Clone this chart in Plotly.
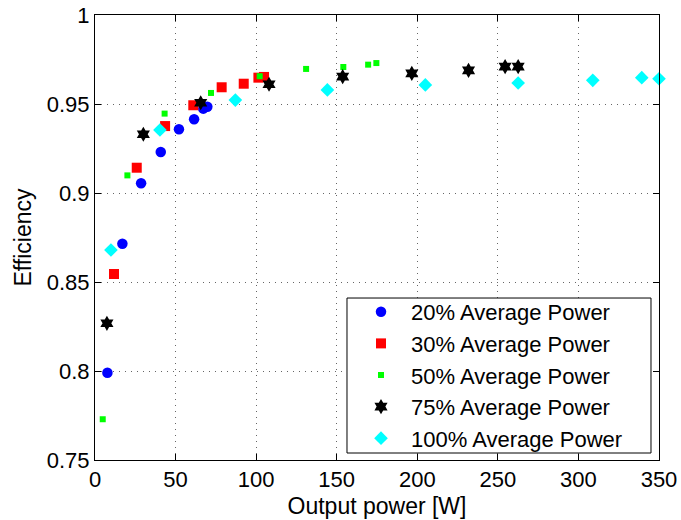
import plotly.graph_objects as go

# ---- data ----
x20 = [7.7, 17.0, 28.6, 40.8, 52.1, 61.5, 67.2, 69.7]
y20 = [0.799, 0.8715, 0.9055, 0.923, 0.9358, 0.9414, 0.9474, 0.9485]

x30 = [11.8, 25.9, 43.5, 61.0, 78.6, 92.3, 101.4, 104.9]
y30 = [0.8545, 0.9142, 0.9376, 0.9493, 0.9594, 0.9614, 0.9648, 0.9652]

x50 = [4.8, 20.1, 43.2, 72.0, 102.2, 131.0, 154.1, 169.5, 174.6]
y50 = [0.7729, 0.9099, 0.9446, 0.9562, 0.9656, 0.9697, 0.9708, 0.9721, 0.973]

x75 = [7.4, 30.0, 65.6, 108.0, 153.7, 196.6, 231.8, 254.5, 262.6]
y75 = [0.8268, 0.933, 0.9507, 0.9611, 0.9654, 0.9672, 0.9689, 0.971, 0.971]

x100 = [9.9, 40.3, 87.1, 144.2, 205.0, 262.6, 308.9, 339.3, 350.0]
y100 = [0.868, 0.9354, 0.9522, 0.9579, 0.9607, 0.9618, 0.9633, 0.9648, 0.9642]

names = ["20% Average Power", "30% Average Power", "50% Average Power",
         "75% Average Power", "100% Average Power"]

x_ticks = [0, 50, 100, 150, 200, 250, 300, 350]
y_ticks = [0.75, 0.8, 0.85, 0.9, 0.95, 1.0]
y_tick_text = ["0.75", "0.8", "0.85", "0.9", "0.95", "1"]

FONT = "Arial, Liberation Sans, sans-serif"

fig = go.Figure()
series = [
    (x20, y20, names[0], dict(symbol="circle", size=10.5, color="#0000ff")),
    (x30, y30, names[1], dict(symbol="square", size=10, color="#ff0000")),
    (x50, y50, names[2], dict(symbol="square", size=6, color="#00ff00")),
    (x75, y75, names[3], dict(symbol="hexagram", size=11.5, color="#000000")),
    (x100, y100, names[4], dict(symbol="diamond", size=10.5, color="#00ffff")),
]
for xs, ys, nm, mk in series:
    fig.add_trace(go.Scatter(x=xs, y=ys, name=nm, mode="markers",
                             marker=dict(line=dict(width=0), **mk),
                             cliponaxis=False))

# legend box (MATLAB style)
fig.add_shape(type="rect", xref="paper", yref="paper",
              x0=0.4468, x1=0.9858, y0=0.0157, y1=0.364,
              fillcolor="white", line=dict(color="black", width=1),
              layer="above")

grid = dict(showgrid=True, gridcolor="rgba(0,0,0,0.6)", gridwidth=1,
            griddash="1px,5px")
axis_common = dict(showline=True, linecolor="black", linewidth=1,
                   mirror="ticks", ticks="inside", ticklen=6,
                   tickcolor="black", zeroline=False, automargin=False,
                   tickfont=dict(family=FONT, size=22, color="black"),
                   **grid)

fig.update_layout(
    template="none",
    width=681, height=520,
    margin=dict(l=95, r=22, t=15, b=60),
    paper_bgcolor="white", plot_bgcolor="white",
    font=dict(family=FONT, color="black"),
    xaxis=dict(range=[0, 350], tickvals=x_ticks,
               title=dict(text="Output power [W]",
                          font=dict(family=FONT, size=23), standoff=6),
               **axis_common),
    yaxis=dict(range=[0.75, 1.0], tickvals=y_ticks, ticktext=y_tick_text,
               title=dict(text="Efficiency",
                          font=dict(family=FONT, size=23), standoff=8),
               **axis_common),
    legend=dict(x=0.4539, y=0.3798, xanchor="left", yanchor="top",
                bgcolor="rgba(0,0,0,0)", borderwidth=0,
                itemwidth=50,
                font=dict(family=FONT, size=22, color="black")),
    showlegend=True,
)

fig.write_html("out.html")
